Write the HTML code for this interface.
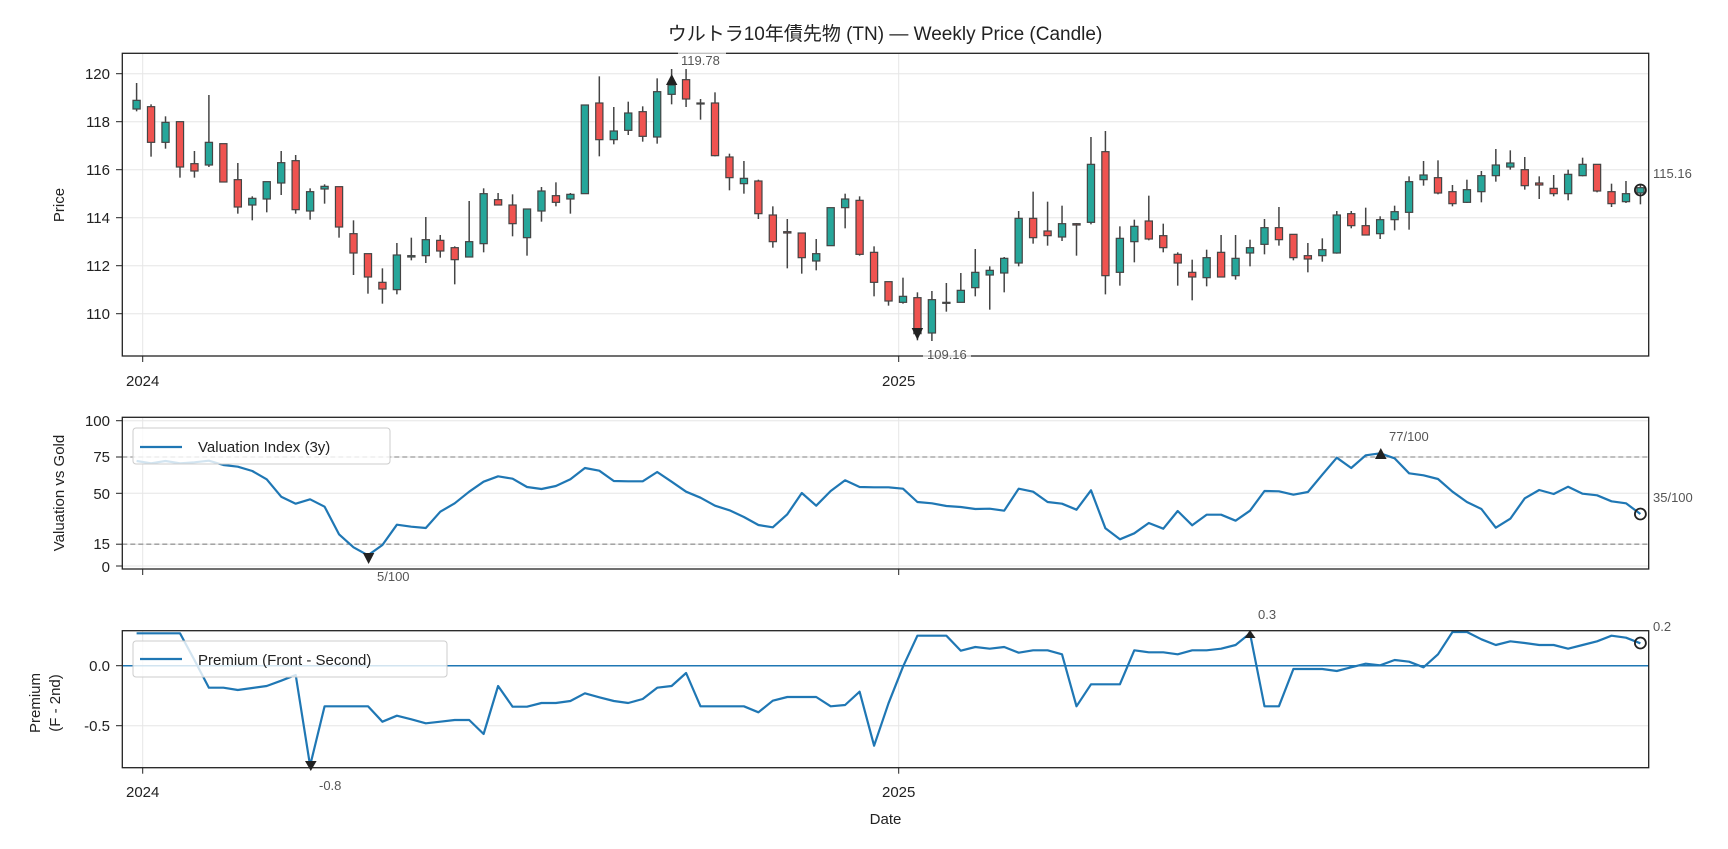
<!DOCTYPE html>
<html><head><meta charset="utf-8"><style>
html,body{margin:0;padding:0;background:#fff;}
svg{display:block;font-family:"Liberation Sans","Noto Sans CJK JP",sans-serif;}
.t{font-size:15px;fill:#222;}
.a{font-size:13px;fill:#555;}
</style></head><body>
<svg id="s" width="1728" height="849" viewBox="0 0 1728 849" xmlns="http://www.w3.org/2000/svg">
<rect width="1728" height="849" fill="#fff"/>
<g id="grid"></g>
<g id="data"></g>
<!-- frames -->
<rect x="122.3" y="53.3" width="1526.4" height="302.7" fill="none" stroke="#222" stroke-width="1.3"/>
<rect x="122.3" y="417.3" width="1526.4" height="151.7" fill="none" stroke="#222" stroke-width="1.3"/>
<rect x="122.3" y="630.7" width="1526.4" height="137" fill="none" stroke="#222" stroke-width="1.3"/>
<!-- title -->
<text x="885" y="40" text-anchor="middle" font-size="19" fill="#222">ウルトラ10年債先物 (TN) — Weekly Price (Candle)</text>
<!-- price y ticks -->
<g class="t" text-anchor="end">
<text x="110" y="79">120</text><text x="110" y="127">118</text><text x="110" y="175">116</text>
<text x="110" y="223">114</text><text x="110" y="271">112</text><text x="110" y="319">110</text>
<text x="110" y="426">100</text><text x="110" y="462">75</text><text x="110" y="499">50</text>
<text x="110" y="549">15</text><text x="110" y="572">0</text>
<text x="110" y="671">0.0</text><text x="110" y="731">-0.5</text>
</g>
<g class="t" text-anchor="middle">
<text x="142.7" y="386">2024</text><text x="898.7" y="386">2025</text>
<text x="142.7" y="797">2024</text><text x="898.7" y="797">2025</text>
<text x="885.5" y="824">Date</text>
</g>
<text class="t" transform="translate(64,205) rotate(-90)" text-anchor="middle">Price</text>
<text class="t" transform="translate(64,493) rotate(-90)" text-anchor="middle">Valuation vs Gold</text>
<text class="t" transform="translate(40,703) rotate(-90)" text-anchor="middle">Premium</text>
<text class="t" transform="translate(60,703) rotate(-90)" text-anchor="middle">(F - 2nd)</text>
<!-- legends -->
<rect x="133" y="428" width="257" height="36" rx="3" fill="#fff" fill-opacity="0.8" stroke="#ccc"/>
<line x1="140" y1="447" x2="182" y2="447" stroke="#1f77b4" stroke-width="2.2"/>
<text class="t" x="198" y="452">Valuation Index (3y)</text>
<rect x="133" y="641" width="314" height="36" rx="3" fill="#fff" fill-opacity="0.8" stroke="#ccc"/>
<line x1="140" y1="659" x2="182" y2="659" stroke="#1f77b4" stroke-width="2.2"/>
<text class="t" x="198" y="665">Premium (Front - Second)</text>
<!-- markers -->
<polygon points="671.7,74 666,85 677.4,85" fill="#222"/>
<rect x="678" y="52" width="48" height="15" fill="#fff" fill-opacity="0.7"/>
<text class="a" x="681" y="65">119.78</text>
<polygon points="917.4,340 911.7,328 923.1,328" fill="#222"/>
<rect x="923" y="346" width="48" height="15" fill="#fff" fill-opacity="0.7"/>
<text class="a" x="927" y="359">109.16</text>
<circle cx="1640.4" cy="190" r="5.5" fill="none" stroke="#222" stroke-width="1.8"/>
<text class="a" x="1653" y="178">115.16</text>
<polygon points="368.6,564 362.9,553 374.3,553" fill="#222"/>
<text class="a" x="377" y="581">5/100</text>
<polygon points="1380.8,448 1375,459 1386.6,459" fill="#222"/>
<text class="a" x="1389" y="441">77/100</text>
<circle cx="1640.4" cy="514" r="5.5" fill="none" stroke="#222" stroke-width="1.8"/>
<text class="a" x="1653" y="502">35/100</text>
<polygon points="310.8,771 305,761 316.6,761" fill="#222"/>
<text class="a" x="319" y="790">-0.8</text>
<polygon points="1250,630 1244.5,638 1255.5,638" fill="#222"/>
<text class="a" x="1258" y="619">0.3</text>
<circle cx="1640.4" cy="643" r="5.5" fill="none" stroke="#222" stroke-width="1.8"/>
<text class="a" x="1653" y="631">0.2</text>
</svg>
<script>
var NS="http://www.w3.org/2000/svg";
function el(p,n,a){var e=document.createElementNS(NS,n);for(var k in a)e.setAttribute(k,a[k]);p.appendChild(e);return e;}
var G=document.getElementById("grid"),D=document.getElementById("data");
var L=122.3,R=1648.7;
// grids
[73.7,121.7,169.7,217.7,265.7,313.7].forEach(function(y){el(G,"line",{x1:L,x2:R,y1:y,y2:y,stroke:"#e6e6e6","stroke-width":1});el(G,"line",{x1:116,x2:L,y1:y,y2:y,stroke:"#222"});});
[420.7,457,493.3,544.2,566].forEach(function(y){el(G,"line",{x1:L,x2:R,y1:y,y2:y,stroke:"#e6e6e6","stroke-width":1});el(G,"line",{x1:116,x2:L,y1:y,y2:y,stroke:"#222"});});
[665.7,725.7].forEach(function(y){el(G,"line",{x1:L,x2:R,y1:y,y2:y,stroke:"#e6e6e6","stroke-width":1});el(G,"line",{x1:116,x2:L,y1:y,y2:y,stroke:"#222"});});
[142.7,898.7].forEach(function(x){
 [[53.3,356],[417.3,569],[630.7,767.7]].forEach(function(r){el(G,"line",{x1:x,x2:x,y1:r[0],y2:r[1],stroke:"#e6e6e6"});el(G,"line",{x1:x,x2:x,y1:r[1],y2:r[1]+6,stroke:"#222"});});
});
[457,544.2].forEach(function(y){el(G,"line",{x1:L,x2:R,y1:y,y2:y,stroke:"#999","stroke-width":1.3,"stroke-dasharray":"5,3"});});
el(G,"line",{x1:L,x2:R,y1:665.7,y2:665.7,stroke:"#1f77b4","stroke-width":1.5});
function X(i){return 136.6+i*14.46;}
var C=[[301,327,249,334,"g"],[320,427,313,470,"r"],[367,427,349,446,"g"],[365,501,365,533,"r"],[491,513,453,533,"r"],[427,495,285,501,"g"],[431,546,431,546,"r"],[539,621,489,641,"r"],[595,615,589,661,"g"],[545,597,545,637,"g"],[488,549,453,585,"g"],[482,629,465,641,"r"],[575,633,565,659,"g"],[559,567,553,611,"g"],[560,681,560,713,"r"],[701,759,661,825,"r"],[761,831,761,881,"r"],[847,867,805,911,"r"],[765,869,729,883,"g"],[767,771,713,781,"g"],[719,767,651,789,"g"],[721,753,705,773,"r"],[743,779,739,853,"r"],[725,771,603,771,"g"],[581,731,565,757,"g"],[599,615,579,615,"r"],[615,671,583,709,"r"],[627,713,627,767,"g"],[573,633,561,665,"g"],[587,607,547,619,"r"],[583,597,579,641,"g"],[315,581,315,581,"g"],[309,419,229,469,"r"],[393,419,321,433,"g"],[339,391,305,405,"g"],[335,409,319,425,"r"],[275,411,235,431,"g"],[255,283,207,313,"g"],[239,297,207,321,"r"],[309,311,297,359,"r"],[309,467,277,469,"r"],[471,533,461,571,"r"],[535,551,483,581,"g"],[543,641,539,657,"r"],[645,725,619,743,"r"],[695,699,657,805,"r"],[699,773,699,821,"r"],[761,783,717,811,"g"],[623,737,623,737,"g"],[597,623,581,685,"g"],[601,763,589,767,"r"],
[757,847,739,889,"r"],[845,903,845,917,"r"],[889,907,833,911,"g"],[893,1001,877,1021,"r"],[899,999,873,1023,"g"],[907,909,849,935,"g"],[871,907,819,907,"g"],[817,863,747,889,"g"],[811,825,799,929,"g"],[775,819,771,877,"g"],[655,789,633,799,"g"],[655,713,575,731,"r"],[693,707,605,737,"r"],[671,711,617,723,"g"],[671,675,669,767,"r"],[493,667,411,673,"g"],[455,827,393,883,"r"],[715,817,679,857,"g"],[679,725,659,787,"g"],[663,717,587,721,"r"],[707,743,671,757,"r"],[763,789,757,857,"r"],[817,831,779,901,"r"],[773,833,749,859,"g"],[757,831,705,831,"r"],[775,827,705,839,"g"],[743,759,719,799,"g"],[683,733,657,763,"g"],[683,719,621,737,"r"],[703,773,703,781,"r"],[767,777,729,817,"r"],[749,767,715,785,"g"],[645,759,633,761,"g"],[641,677,633,685,"r"],[677,705,623,705,"r"],[659,701,649,717,"g"],[635,659,617,691,"g"],[545,637,529,689,"g"],[525,539,483,557,"g"],[533,579,481,583,"r"],[575,611,555,619,"r"],[569,607,539,609,"g"],[527,575,513,607,"g"],[495,527,447,545,"g"],[489,501,451,509,"g"],[509,557,471,569,"r"],[549,555,529,597,"r"],[565,581,525,589,"r"],[523,581,509,601,"g"],[493,527,473,529,"g"],[493,573,493,577,"r"],[575,611,551,621,"r"],[581,605,543,609,"g"],[563,579,553,613,"g"]];
C.forEach(function(c,i){var x=X(i);
 el(D,"line",{x1:x,x2:x,y1:c[2]/3,y2:c[3]/3,stroke:"#444","stroke-width":1.5});
 var h=Math.max(c[1]/3-c[0]/3,1);
 el(D,"rect",{x:x-3.6,y:c[0]/3,width:7.2,height:h,fill:c[4]=="g"?"#26a69a":"#ef5350",stroke:"#444","stroke-width":1.2});
});
var V=[153,160,153,160,157,152,165,170,183,208,260,281,268,290,373,412,436,405,344,350,354,305,280,245,215,199,206,231,237,228,208,174,182,213,214,214,186,215,245,263,287,301,321,345,352,313,249,287,243,211,231,
232,232,236,276,280,288,291,297,296,302,236,245,276,281,299,241,355,388,370,339,356,303,346,314,314,332,302,243,244,254,246,194,143,174,136,130,145,190,196,207,245,276,297,353,326,265,240,252,230,251,256,274,280,312];
var P=[670,670,670,670,750,833,833,840,834,828,812,795,1067,889,889,889,889,935,917,928,940,935,930,930,972,828,890,890,879,879,873,850,862,873,879,867,833,828,789,889,889,889,889,907,872,861,861,861,889,885,845,
1007,880,770,677,677,677,722,711,716,711,728,721,721,733,889,823,823,823,721,727,727,733,721,721,716,705,670,889,889,777,777,777,783,772,761,766,750,755,772,733,666,666,688,705,694,699,705,705,716,705,694,677,683,700];
function path(a){return a.map(function(v,i){return (i?"L":"M")+X(i).toFixed(1)+","+(410+v/3).toFixed(1);}).join("");}
el(D,"path",{d:path(V),fill:"none",stroke:"#1f77b4","stroke-width":2.2,"stroke-linejoin":"round"});
el(D,"path",{d:path(P),fill:"none",stroke:"#1f77b4","stroke-width":2.2,"stroke-linejoin":"round"});
</script>
</body></html>
